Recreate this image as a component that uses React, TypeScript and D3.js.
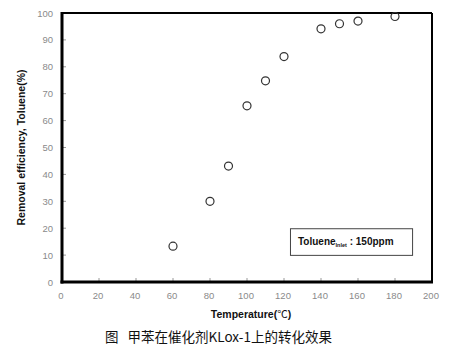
import { useRef, useEffect } from 'react'
import * as d3 from 'd3'

// Temperature (°C) vs removal efficiency (%)
const temperatures = [60, 80, 90, 100, 110, 120, 140, 150, 160, 180]
const efficiencies = [13.3, 30.0, 43.1, 65.5, 74.8, 83.8, 94.1, 96.0, 97.0, 98.7]
const xTicks = [0, 20, 40, 60, 80, 100, 120, 140, 160, 180, 200]
const yTicks = [0, 10, 20, 30, 40, 50, 60, 70, 80, 90, 100]

const width = 455
const height = 355
const margin = { top: 13, right: 23, bottom: 73, left: 62 }

export default function App() {
  const svgRef = useRef<SVGSVGElement>(null)

  useEffect(() => {
    if (!svgRef.current) return
    const svg = d3.select(svgRef.current)
    svg.selectAll("*").remove()

    const innerWidth = width - margin.left - margin.right
    const innerHeight = height - margin.top - margin.bottom

    const x = d3.scaleLinear().domain([0, 200]).range([0, innerWidth])
    const y = d3.scaleLinear().domain([0, 100]).range([innerHeight, 0])

    svg.append("rect").attr("width", width).attr("height", height).attr("fill", "#fff")

    const g = svg.append("g").attr("transform", `translate(${margin.left},${margin.top})`)
    const font = "Arial, 'Liberation Sans', sans-serif"

    // x axis ticks (inside) and labels
    g.selectAll(".xt")
      .data(xTicks)
      .enter()
      .append("line")
      .attr("x1", d => x(d)).attr("x2", d => x(d))
      .attr("y1", innerHeight).attr("y2", innerHeight - 4)
      .attr("stroke", "#999").attr("stroke-width", 1)
    g.selectAll(".xl")
      .data(xTicks)
      .enter()
      .append("text")
      .attr("x", d => x(d) - 1)
      .attr("y", innerHeight + 17)
      .attr("text-anchor", "middle")
      .attr("font-family", font).attr("font-size", 9.5)
      .attr("fill", "#8a8a8a")
      .text(d => d)

    // y axis ticks and labels
    g.selectAll(".yt")
      .data(yTicks)
      .enter()
      .append("line")
      .attr("x1", 0).attr("x2", 4)
      .attr("y1", d => y(d)).attr("y2", d => y(d))
      .attr("stroke", "#999").attr("stroke-width", 1)
    g.selectAll(".yl")
      .data(yTicks)
      .enter()
      .append("text")
      .attr("x", -9)
      .attr("y", d => y(d) + 3.5)
      .attr("text-anchor", "end")
      .attr("font-family", font).attr("font-size", 9.5)
      .attr("fill", "#8a8a8a")
      .text(d => d)

    // frame: thicker left/bottom
    g.append("line").attr("x1", 0).attr("x2", innerWidth).attr("y1", 0).attr("y2", 0)
      .attr("stroke", "#000").attr("stroke-width", 2)
    g.append("line").attr("x1", innerWidth).attr("x2", innerWidth).attr("y1", 0).attr("y2", innerHeight)
      .attr("stroke", "#000").attr("stroke-width", 2)
    g.append("line").attr("x1", 0).attr("x2", 0).attr("y1", -1).attr("y2", innerHeight + 1.5)
      .attr("stroke", "#000").attr("stroke-width", 3)
    g.append("line").attr("x1", -1.5).attr("x2", innerWidth + 1).attr("y1", innerHeight).attr("y2", innerHeight)
      .attr("stroke", "#000").attr("stroke-width", 3)

    // points
    g.selectAll("circle")
      .data(temperatures)
      .enter()
      .append("circle")
      .attr("cx", d => x(d))
      .attr("cy", (_, i) => y(efficiencies[i]))
      .attr("r", 4)
      .attr("fill", "none")
      .attr("stroke", "#333")
      .attr("stroke-width", 1.2)

    // annotation box
    const bx = x(123.5), by = y(19.8)
    g.append("rect")
      .attr("x", bx).attr("y", by)
      .attr("width", x(189.5) - x(123.5)).attr("height", y(9.9) - y(19.8))
      .attr("fill", "#fff").attr("stroke", "#444").attr("stroke-width", 1)
    const t = g.append("text")
      .attr("x", bx + 7.5).attr("y", by + 16)
      .attr("font-family", font).attr("font-size", 10).attr("font-weight", "bold")
      .attr("fill", "#111")
    t.append("tspan").text("Toluene")
    t.append("tspan").attr("font-size", 5.5).attr("dy", 2).text("Inlet")
    t.append("tspan").attr("dy", -2).text(" : 150ppm")

    // axis titles
    const xt = svg.append("text")
      .attr("x", margin.left + innerWidth / 2 + 4)
      .attr("y", 317.5)
      .attr("text-anchor", "middle")
      .attr("font-family", font).attr("font-size", 10.5).attr("font-weight", "bold")
      .attr("fill", "#111")
    xt.append("tspan").text("Temperature(")
    xt.append("tspan").attr("font-family", "'Noto Sans CJK SC', sans-serif").attr("font-weight", "normal").text("℃")
    xt.append("tspan").text(")")
    svg.append("text")
      .attr("transform", `translate(25,${margin.top + innerHeight / 2}) rotate(-90)`)
      .attr("text-anchor", "middle")
      .attr("font-family", font).attr("font-size", 10.5).attr("font-weight", "bold")
      .attr("fill", "#111")
      .text("Removal efficiency, Toluene(%)")

    // caption
    const cap = svg.append("text")
      .attr("x", 105)
      .attr("y", 342)
      .attr("font-family", "'Noto Sans CJK SC', sans-serif").attr("font-size", 13.5)
      .attr("fill", "#111")
    cap.append("tspan").text("图")
    cap.append("tspan").attr("dx", 9).text("甲苯在催化剂KLox-1上的转化效果")
  }, [])

  return (
    <svg
      ref={svgRef}
      width={width}
      height={height}
      style={{ position: 'absolute', left: 0, top: 0 }}
    />
  )
}
